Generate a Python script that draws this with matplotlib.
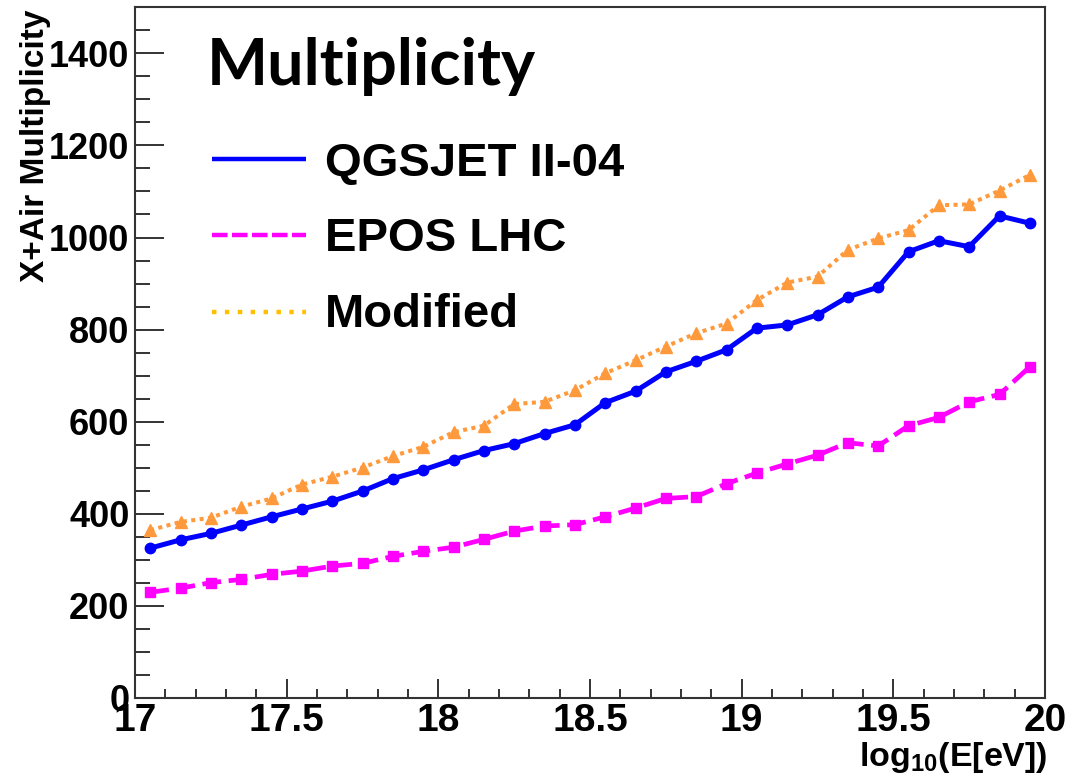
import matplotlib
matplotlib.use("Agg")
import matplotlib.pyplot as plt
from matplotlib.lines import Line2D
from matplotlib.ticker import MultipleLocator, FormatStrFormatter

# ---------------- data ----------------
log_energy = [17.05, 17.15, 17.25, 17.35, 17.45, 17.55, 17.65, 17.75, 17.85, 17.95,
              18.05, 18.15, 18.25, 18.35, 18.45, 18.55, 18.65, 18.75, 18.85, 18.95,
              19.05, 19.15, 19.25, 19.35, 19.45, 19.55, 19.65, 19.75, 19.85, 19.95]
qgsjet = [325, 343, 357, 375, 393, 410, 427, 449, 476, 495,
          517, 537, 552, 574, 593, 641, 666, 708, 731, 756,
          803, 810, 832, 871, 892, 969, 993, 980, 1047, 1031]
epos = [229, 238, 250, 257, 268, 275, 286, 292, 307, 318,
        327, 344, 362, 373, 376, 393, 412, 433, 437, 465,
        488, 508, 527, 554, 547, 591, 609, 643, 659, 719]
modified = [364, 382, 391, 415, 433, 463, 480, 500, 525, 545,
            577, 591, 638, 643, 668, 705, 733, 763, 792, 813,
            864, 902, 915, 973, 998, 1016, 1070, 1072, 1102, 1136]
legend_labels = ["QGSJET II-04", "EPOS LHC", "Modified"]
title_text = "Multiplicity"
x_label = r"log$_{\mathbf{10}}$(E[eV])"
y_label = "X+Air Multiplicity"

plt.rcParams['mathtext.fontset'] = 'custom'
plt.rcParams['mathtext.rm'] = 'Liberation Sans:bold'
plt.rcParams['mathtext.bf'] = 'Liberation Sans:bold'

W, H = 1074, 773
fig = plt.figure(figsize=(W / 100, H / 100), dpi=100)
L, R, T, B = 135, 1045, 7.4, 697.7
ax = fig.add_axes([L / W, 1 - B / H, (R - L) / W, (B - T) / H])

BLUE = '#0000ff'
MAGENTA = '#ff00ff'
ORANGE = '#ff9a3c'
YELLOW = '#ffc000'

ax.plot(log_energy, modified, color=ORANGE, lw=2.9, dashes=(1.0, 1.1),
        marker='^', ms=8.5, mec=ORANGE, mfc=ORANGE, zorder=3)
ax.plot(log_energy, epos, color=MAGENTA, lw=3.4, dashes=(4.0, 1.6),
        marker='s', ms=7.5, mec=MAGENTA, mfc=MAGENTA, zorder=3)
ax.plot(log_energy, qgsjet, color=BLUE, lw=3.6, ls='-',
        marker='o', ms=7.5, mec=BLUE, mfc=BLUE, zorder=4)

ax.set_xlim(17, 20)
ax.set_ylim(0, 1500)
ax.xaxis.set_major_locator(MultipleLocator(0.5))
ax.xaxis.set_minor_locator(MultipleLocator(0.1))
ax.yaxis.set_major_locator(MultipleLocator(200))
ax.yaxis.set_minor_locator(MultipleLocator(50))
ax.xaxis.set_major_formatter(FormatStrFormatter('%g'))

for s in ax.spines.values():
    s.set_linewidth(1.5)
    s.set_color('#333333')

ax.tick_params(axis='both', which='both', direction='in', color='#333333', width=1.4,
               top=False, right=False)
ax.tick_params(axis='y', which='major', length=21, pad=4)
ax.tick_params(axis='y', which='minor', length=10.8)
ax.tick_params(axis='x', which='major', length=13.4, pad=3.5)
ax.tick_params(axis='x', which='minor', length=6.7)

for lab in ax.get_yticklabels():
    lab.set_fontfamily('Liberation Sans')
    lab.set_fontweight('bold')
    lab.set_fontsize(26)
for lab in ax.get_xticklabels():
    lab.set_fontfamily('Liberation Sans')
    lab.set_fontweight('bold')
    lab.set_fontsize(28)

# axis titles
fig.text(36 / W, 1 - 10 / H, y_label, rotation=90, ha='center', va='top',
         family=['Liberation Sans Narrow', 'Liberation Sans'], fontweight='bold', fontsize=24)
fig.text(1048 / W, 1 - 766 / H, x_label, ha='right', va='baseline',
         family='Liberation Sans', fontweight='bold', fontsize=24.5)

# overlay title and legend
fig.text(207 / W, 1 - 85 / H, title_text, ha='left', va='baseline',
         family='Lato', fontweight='bold', fontsize=46.5)

styles = [dict(color=BLUE, ls='-', lw=3.2),
          dict(color=MAGENTA, lw=3.2, dashes=(3.5, 1.0)),
          dict(color=YELLOW, lw=3.2, dashes=(1.0, 1.9))]
line_y = [159.3, 235, 311.7]
text_base = [175.7, 250.7, 326.7]
for lab, st, ly, tb in zip(legend_labels, styles, line_y, text_base):
    fig.add_artist(Line2D([211.7 / W, 306 / W], [1 - ly / H, 1 - ly / H],
                          transform=fig.transFigure, solid_capstyle='butt',
                          dash_capstyle='butt', **st))
    fig.text(325 / W, 1 - tb / H, lab, ha='left', va='baseline',
             family='Liberation Sans', fontweight='bold', fontsize=34)

fig.savefig('out.png', dpi=100)
